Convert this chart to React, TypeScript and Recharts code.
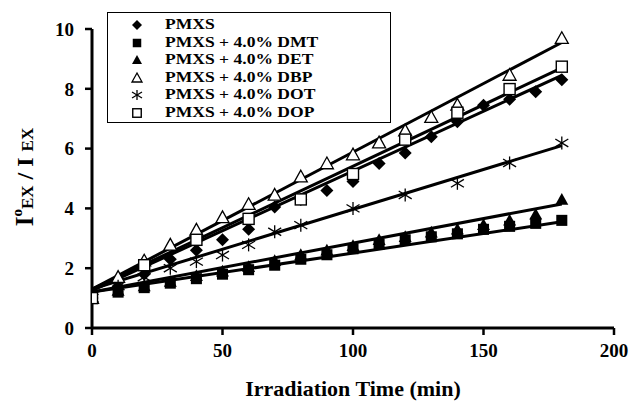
import React from "react";
import { ScatterChart, Scatter, XAxis, YAxis, Legend } from "recharts";

// irradiation time (min)
const time = [0, 10, 20, 30, 40, 50, 60, 70, 80, 90, 100, 110, 120, 130, 140, 150, 160, 170, 180];
const timeDbp = [0, 10, 20, 30, 40, 50, 60, 70, 80, 90, 100, 110, 120, 130, 140, 160, 180];
const timeDot = [0, 10, 20, 30, 40, 50, 60, 70, 80, 100, 120, 140, 160, 180];
const timeDop = [0, 20, 40, 60, 80, 100, 120, 140, 160, 180];

// I0/I ratio per sample
const pmxs = [1.0, 1.4, 1.8, 2.3, 2.6, 2.95, 3.3, 4.05, 4.3, 4.6, 4.9, 5.5, 5.85, 6.4, 6.9, 7.45, 7.65, 7.9, 8.3];
const dmt = [1.0, 1.2, 1.35, 1.5, 1.65, 1.8, 1.95, 2.1, 2.3, 2.45, 2.65, 2.8, 2.95, 3.05, 3.15, 3.3, 3.4, 3.5, 3.6];
const det = [1.0, 1.25, 1.4, 1.55, 1.75, 1.9, 2.05, 2.25, 2.45, 2.6, 2.75, 2.95, 3.05, 3.2, 3.3, 3.45, 3.6, 3.8, 4.3];
const dbp = [1.0, 1.7, 2.25, 2.78, 3.28, 3.7, 4.14, 4.45, 5.06, 5.5, 5.8, 6.2, 6.6, 7.05, 7.46, 8.46, 9.69];
const dot = [1.0, 1.4, 1.7, 2.0, 2.22, 2.44, 2.78, 3.22, 3.44, 4.0, 4.45, 4.84, 5.52, 6.19];
const dop = [1.0, 2.1, 2.95, 3.65, 4.3, 5.15, 6.3, 7.2, 7.99, 8.74];

// linear trend lines: value at t=0 and at t=180
const trendX = [0, 180];
const pmxsTrend = [1.25, 8.45];
const dmtTrend = [1.2, 3.55];
const detTrend = [1.2, 4.15];
const dbpTrend = [1.3, 9.55];
const dotTrend = [1.3, 6.1];
const dopTrend = [1.3, 8.7];

const labels = [
  "PMXS",
  "PMXS + 4.0% DMT",
  "PMXS + 4.0% DET",
  "PMXS + 4.0% DBP",
  "PMXS + 4.0% DOT",
  "PMXS + 4.0% DOP",
];

const xTicks = [0, 50, 100, 150, 200];
const yTicks = [0, 2, 4, 6, 8, 10];

const FONT = "'Liberation Serif', 'Times New Roman', serif";

type Kind = "diamond" | "square" | "triangle" | "openTriangle" | "star" | "openSquare";

function Marker({ kind, cx, cy, s }: { kind: Kind; cx: number; cy: number; s: number }) {
  const h = s / 2;
  switch (kind) {
    case "diamond":
      return <polygon points={`${cx},${cy - h} ${cx + h},${cy} ${cx},${cy + h} ${cx - h},${cy}`} fill="#000" />;
    case "square":
      return <rect x={cx - h * 0.85} y={cy - h * 0.85} width={s * 0.85} height={s * 0.85} fill="#000" />;
    case "triangle":
      return <polygon points={`${cx},${cy - h} ${cx + h},${cy + h * 0.8} ${cx - h},${cy + h * 0.8}`} fill="#000" />;
    case "openTriangle":
      return (
        <polygon
          points={`${cx},${cy - h} ${cx + h},${cy + h * 0.8} ${cx - h},${cy + h * 0.8}`}
          fill="#fff"
          stroke="#000"
          strokeWidth={1.3}
        />
      );
    case "star":
      return (
        <g stroke="#000" strokeWidth={1.3}>
          <line x1={cx} y1={cy - h} x2={cx} y2={cy + h} />
          <line x1={cx - h} y1={cy - h * 0.6} x2={cx + h} y2={cy + h * 0.6} />
          <line x1={cx - h} y1={cy + h * 0.6} x2={cx + h} y2={cy - h * 0.6} />
        </g>
      );
    case "openSquare":
      return (
        <rect x={cx - h * 0.85} y={cy - h * 0.85} width={s * 0.85} height={s * 0.85} fill="#fff" stroke="#000" strokeWidth={1.4} />
      );
  }
}

const series: { name: string; xs: number[]; ys: number[]; trend: number[]; kind: Kind }[] = [
  { name: labels[0], xs: time, ys: pmxs, trend: pmxsTrend, kind: "diamond" },
  { name: labels[1], xs: time, ys: dmt, trend: dmtTrend, kind: "square" },
  { name: labels[2], xs: time, ys: det, trend: detTrend, kind: "triangle" },
  { name: labels[3], xs: timeDbp, ys: dbp, trend: dbpTrend, kind: "openTriangle" },
  { name: labels[4], xs: timeDot, ys: dot, trend: dotTrend, kind: "star" },
  { name: labels[5], xs: timeDop, ys: dop, trend: dopTrend, kind: "openSquare" },
];

const toPts = (xs: number[], ys: number[]) => xs.map((x, i) => ({ x, y: ys[i] }));

function LegendBox() {
  return (
    <div
      style={{
        border: "1.5px solid #000",
        width: 284,
        height: 111,
        boxSizing: "border-box",
        padding: "3px 0 0 0",
        background: "#fff",
      }}
    >
      {series.map((s) => (
        <div key={s.name} style={{ display: "flex", alignItems: "center", height: 17.5 }}>
          <svg width={57} height={17} style={{ flex: "none" }}>
            <Marker kind={s.kind} cx={29} cy={9} s={10} />
          </svg>
          <span
            style={{
              display: "inline-block",
              fontFamily: FONT,
              fontWeight: "bold",
              fontSize: 15,
              lineHeight: "17px",
              color: "#000",
              whiteSpace: "pre",
              transform: "scaleX(1.17)",
              transformOrigin: "left center",
            }}
          >
            {s.name}
          </span>
        </div>
      ))}
    </div>
  );
}

function YLabel() {
  return (
    <text transform="translate(33,177) rotate(-90)" textAnchor="middle" fontFamily={FONT} fontWeight="bold" fill="#000">
      <tspan fontSize={25}>I</tspan>
      <tspan fontSize={15} dy={-11}>o</tspan>
      <tspan fontSize={17} dy={11}>EX</tspan>
      <tspan fontSize={24}> / I </tspan>
      <tspan fontSize={17}>EX</tspan>
    </text>
  );
}

export default function App() {
  const tickStyle = { fontFamily: FONT, fontWeight: "bold", fontSize: 19, fill: "#000" };
  return (
    <div style={{ width: 633, height: 410, background: "#fff", position: "relative" }}>
      <style>{`body{margin:0;background:#fff}`}</style>
      <ScatterChart width={633} height={410} margin={{ top: 29, right: 19, bottom: 40, left: 0 }}>
        <XAxis
          type="number"
          dataKey="x"
          domain={[0, 200]}
          ticks={xTicks}
          allowDataOverflow
          tick={tickStyle}
          tickSize={7}
          tickMargin={9}
          height={42}
          axisLine={{ stroke: "#000", strokeWidth: 3 }}
          tickLine={{ stroke: "#000", strokeWidth: 2.5 }}
          label={{
            value: "Irradiation Time (min)",
            position: "insideBottom",
            offset: -26,
            style: { fontFamily: FONT, fontWeight: "bold", fontSize: 22, fill: "#000" },
          }}
        />
        <YAxis
          type="number"
          dataKey="y"
          domain={[0, 10]}
          ticks={yTicks}
          allowDataOverflow
          tick={tickStyle}
          tickSize={7}
          tickMargin={11}
          width={92}
          axisLine={{ stroke: "#000", strokeWidth: 3 }}
          tickLine={{ stroke: "#000", strokeWidth: 2.5 }}
          label={<YLabel />}
        />
        {series.map((s) => (
          <Scatter
            key={`trend-${s.name}`}
            data={toPts(trendX, s.trend)}
            line={{ stroke: "#000", strokeWidth: 3 }}
            shape={() => <g />}
            legendType="none"
            isAnimationActive={false}
          />
        ))}
        {series.map((s) => (
          <Scatter
            key={s.name}
            name={s.name}
            data={toPts(s.xs, s.ys)}
            shape={(p: any) => <Marker kind={s.kind} cx={p.cx} cy={p.cy} s={13} />}
            isAnimationActive={false}
          />
        ))}
        <Legend
          layout="vertical"
          align="center"
          verticalAlign="middle"
          content={() => <LegendBox />}
          wrapperStyle={{ top: 12, left: 107, width: 284, height: 111 }}
        />
      </ScatterChart>
    </div>
  );
}
